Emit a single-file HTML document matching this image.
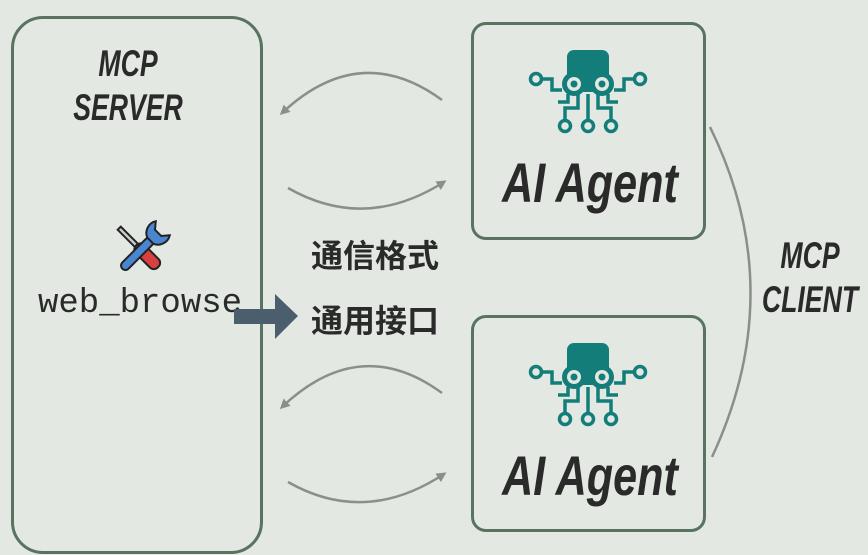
<!DOCTYPE html>
<html><head><meta charset="utf-8"><style>
html,body{margin:0;padding:0}
body{width:868px;height:555px;background:#e3e8e2;position:relative;overflow:hidden;font-family:"Liberation Sans",sans-serif}
.box{position:absolute;border:3px solid #587460;box-sizing:border-box}
.t{position:absolute;white-space:nowrap;color:#2a2a2a}
.cond{font-style:italic;font-weight:bold;transform:scaleX(.72);transform-origin:center}
</style></head><body>
<div class="box" style="left:11px;top:16px;width:252px;height:538px;border-radius:32px"></div>
<div class="box" style="left:471px;top:22px;width:235px;height:218px;border-radius:15px"></div>
<div class="box" style="left:471px;top:315px;width:235px;height:217px;border-radius:15px"></div>

<div class="t cond" style="left:28px;width:200px;text-align:center;top:42px;font-size:37px;line-height:44px">MCP<br>SERVER</div>
<div class="t cond" style="left:740px;width:140px;text-align:center;top:234px;font-size:37px;line-height:44px">MCP<br>CLIENT</div>

<div class="t cond" style="left:450px;width:280px;text-align:center;top:150px;font-size:56px;transform:scaleX(.77)">AI Agent</div>
<div class="t cond" style="left:450px;width:280px;text-align:center;top:443px;font-size:56px;transform:scaleX(.77)">AI Agent</div>

<div class="t" style="left:38px;top:285px;font-family:'Liberation Mono',monospace;font-size:34px">web_browse</div>
<div class="t" style="left:311px;top:224px;font-family:'Liberation Sans','Noto Sans CJK SC',sans-serif;font-weight:bold;font-size:32px;line-height:65px">通信格式<br>通用接口</div>

<svg width="868" height="555" style="position:absolute;left:0;top:0">
<defs>
<marker id="a" markerWidth="10" markerHeight="10" refX="7" refY="5" orient="auto" markerUnits="userSpaceOnUse"><path d="M0,0 L10,5 L0,10 z" fill="#8a8f8b"/></marker>
<g id="oct">
<rect x="-21" y="0" width="42" height="34" rx="7" fill="#137d7a"/>
<circle cx="-14" cy="34" r="12" fill="#137d7a"/><circle cx="14" cy="34" r="12" fill="#137d7a"/>
<rect x="-21" y="24" width="42" height="18" fill="#137d7a"/>
<circle cx="-14" cy="34" r="7" fill="#e3e8e2"/><circle cx="14" cy="34" r="7" fill="#e3e8e2"/>
<circle cx="-14" cy="34" r="3.5" fill="#137d7a"/><circle cx="14" cy="34" r="3.5" fill="#137d7a"/>
<g fill="none" stroke="#137d7a" stroke-width="3.5">
<path d="M-26,40 H-36 V29 H-47"/><path d="M26,40 H36 V29 H47"/>
<path d="M-10,44 V58 H-23 V70"/><path d="M0,44 V70"/><path d="M10,44 V58 H23 V70"/>
<path d="M-20,44 V52 H-30"/><path d="M20,44 V52 H30"/>
<circle cx="-52" cy="29" r="5.5" fill="#e3e8e2"/><circle cx="52" cy="29" r="5.5" fill="#e3e8e2"/>
<circle cx="-23" cy="76" r="5.5" fill="#e3e8e2"/><circle cx="0" cy="76" r="5.5" fill="#e3e8e2"/><circle cx="23" cy="76" r="5.5" fill="#e3e8e2"/>
</g></g>
</defs>
<use href="#oct" x="588" y="50"/>
<use href="#oct" x="588" y="343"/>
<g fill="none" stroke="#8a8f8b" stroke-width="2.5">
<path d="M442,100 Q360,40 282,113" marker-end="url(#a)"/>
<path d="M288,188 Q365,232 444,182" marker-end="url(#a)"/>
<path d="M442,393 Q360,333 282,407" marker-end="url(#a)"/>
<path d="M288,482 Q365,526 444,474" marker-end="url(#a)"/>
<path d="M710,127 Q790,290 712,457"/>
</g>
<path d="M234,309 H275 V294 L298,316 L275,339 V324 H234 z" fill="#4a5e6e"/>
<g transform="translate(141,250) scale(1.1)" stroke="#222" stroke-width="1.8">
<g transform="rotate(-45)"><rect x="-2" y="-28" width="4" height="22" fill="#ccc"/><rect x="-5.5" y="-6" width="11" height="28" rx="5" fill="#d84040"/></g>
<g transform="rotate(45)"><rect x="-4" y="-14" width="8" height="38" rx="4" fill="#4a86d0"/><path d="M-9,-28 L-4,-22 L4,-22 L9,-28 A11,11 0 0,1 4,-12 L-4,-12 A11,11 0 0,1 -9,-28 z" fill="#4a86d0"/></g>
</g>
</svg>
</body></html>
